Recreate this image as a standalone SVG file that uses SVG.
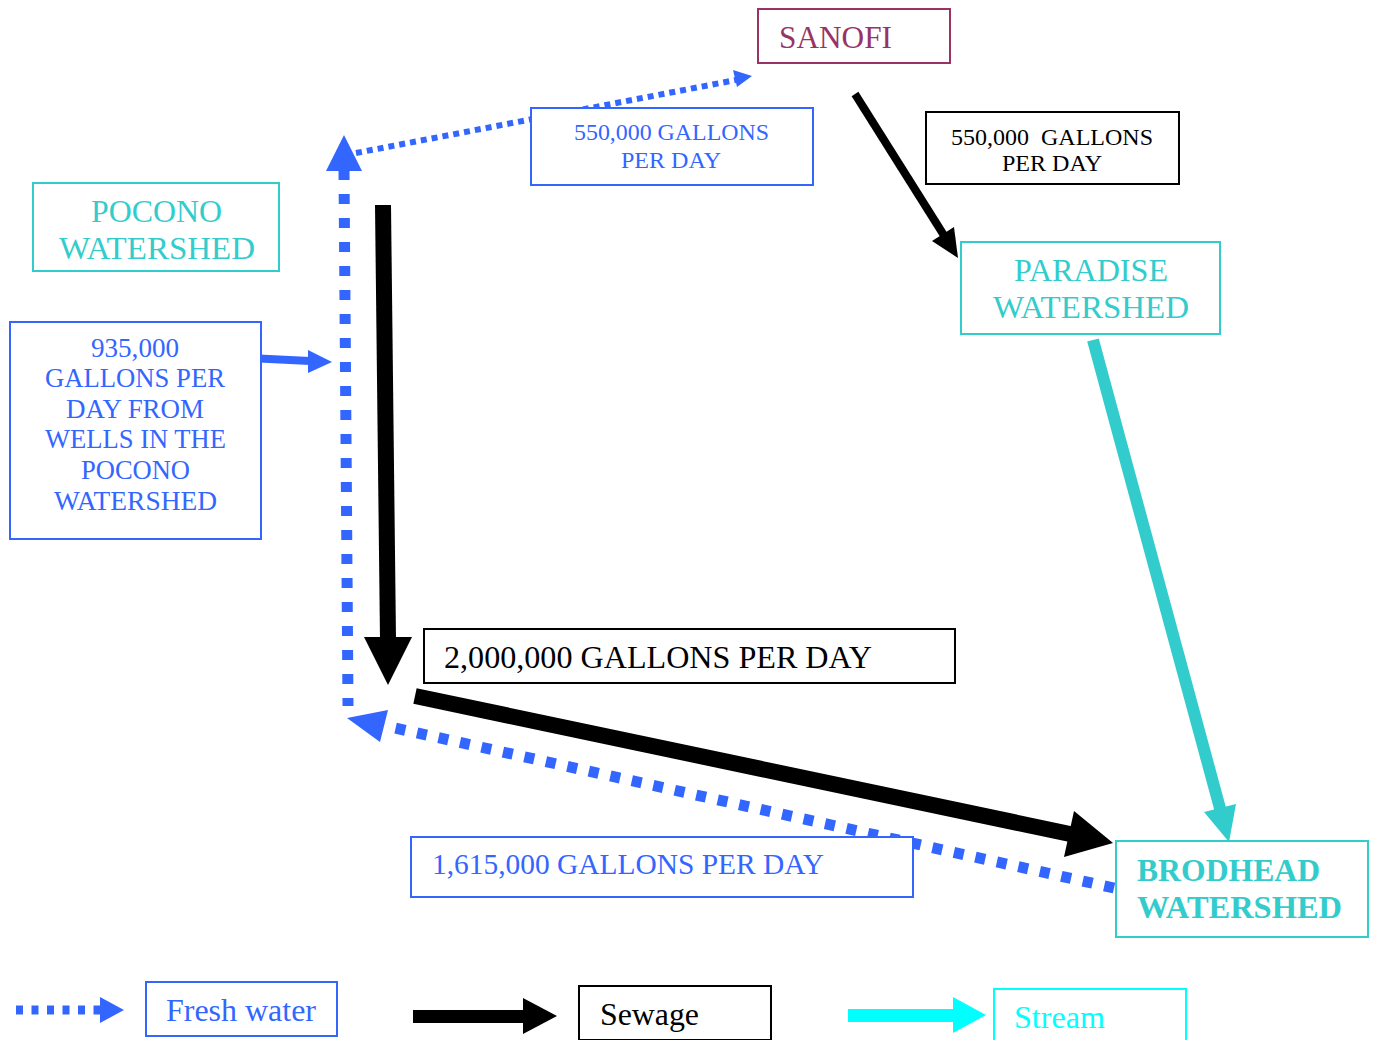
<svg xmlns="http://www.w3.org/2000/svg" width="1376" height="1040" viewBox="0 0 1376 1040">
<style>
text{font-family:"Liberation Serif","Times New Roman",serif;}
.box{fill:#fff;stroke-width:2;}
.blue{fill:#3366FF;}
.teal{fill:#33CCCC;}
.fresh{stroke:#3366FF;fill:none;stroke-linecap:butt;}
</style>
<rect width="1376" height="1040" fill="#fff"/>
<g id="connectors">
  <line class="fresh" x1="356" y1="153" x2="736" y2="80" stroke-width="6" stroke-dasharray="6,5"/>
  <polygon class="blue" points="752,76 733,70 737,87"/>
  <line class="fresh" x1="344" y1="170" x2="348" y2="706" stroke-width="11" stroke-dasharray="10,14"/>
  <polygon class="blue" points="344,135 326,171 362,171"/>
  <line class="fresh" x1="1114" y1="888" x2="386" y2="726" stroke-width="11" stroke-dasharray="10,12"/>
  <polygon class="blue" points="347,718 388,710 380,742"/>
  <line x1="247" y1="358" x2="310" y2="361" stroke="#3366FF" stroke-width="8"/>
  <polygon class="blue" points="332,362 308,350 308,373"/>
  <line x1="383" y1="205" x2="388" y2="640" stroke="#000" stroke-width="16"/>
  <polygon points="388,685 364,637 412,637" fill="#000"/>
  <line x1="415" y1="696" x2="1070" y2="834" stroke="#000" stroke-width="16"/>
  <polygon points="1113,843 1074,811 1064,857" fill="#000"/>
  <line x1="855" y1="94" x2="945" y2="237" stroke="#000" stroke-width="8"/>
  <polygon points="958,258 932,241 954,227" fill="#000"/>
  <line x1="1093" y1="340" x2="1221" y2="812" stroke="#33CCCC" stroke-width="12"/>
  <polygon class="teal" points="1229,842 1204,812 1236,804"/>
</g>
<g id="sanofi">
  <rect class="box" x="758" y="9" width="192" height="54" stroke="#993366"/>
  <text x="779" y="48" font-size="32" fill="#993366" textLength="113" lengthAdjust="spacingAndGlyphs">SANOFI</text>
</g>
<g id="label-550-blue">
  <rect class="box" x="531" y="108" width="282" height="77" stroke="#3366FF"/>
  <text x="574" y="140" font-size="24" fill="#3366FF" textLength="195" lengthAdjust="spacingAndGlyphs">550,000 GALLONS</text>
  <text x="621" y="168" font-size="24" fill="#3366FF" textLength="100" lengthAdjust="spacingAndGlyphs">PER DAY</text>
</g>
<g id="label-550-black">
  <rect class="box" x="926" y="112" width="253" height="72" stroke="#000"/>
  <text x="951" y="145" font-size="24" fill="#000" xml:space="preserve" textLength="202" lengthAdjust="spacingAndGlyphs">550,000  GALLONS</text>
  <text x="1002" y="171" font-size="24" fill="#000" textLength="100" lengthAdjust="spacingAndGlyphs">PER DAY</text>
</g>
<g id="paradise">
  <rect class="box" x="961" y="242" width="259" height="92" stroke="#33CCCC"/>
  <text x="1014" y="281" font-size="32" fill="#33CCCC" textLength="154" lengthAdjust="spacingAndGlyphs">PARADISE</text>
  <text x="993" y="318" font-size="32" fill="#33CCCC" textLength="196" lengthAdjust="spacingAndGlyphs">WATERSHED</text>
</g>
<g id="pocono">
  <rect class="box" x="33" y="183" width="246" height="88" stroke="#33CCCC"/>
  <text x="91" y="222" font-size="32" fill="#33CCCC" textLength="131" lengthAdjust="spacingAndGlyphs">POCONO</text>
  <text x="59" y="259" font-size="32" fill="#33CCCC" textLength="196" lengthAdjust="spacingAndGlyphs">WATERSHED</text>
</g>
<g id="wells">
  <rect class="box" x="10" y="322" width="251" height="217" stroke="#3366FF"/>
  <g font-size="27" fill="#3366FF">
    <text x="91" y="357" textLength="88" lengthAdjust="spacingAndGlyphs">935,000</text>
    <text x="45" y="387" textLength="180" lengthAdjust="spacingAndGlyphs">GALLONS PER</text>
    <text x="66" y="418" textLength="138" lengthAdjust="spacingAndGlyphs">DAY FROM</text>
    <text x="45" y="448" textLength="181" lengthAdjust="spacingAndGlyphs">WELLS IN THE</text>
    <text x="81" y="479" textLength="109" lengthAdjust="spacingAndGlyphs">POCONO</text>
    <text x="54" y="510" textLength="163" lengthAdjust="spacingAndGlyphs">WATERSHED</text>
  </g>
</g>
<g id="label-2000000">
  <rect class="box" x="424" y="629" width="531" height="54" stroke="#000"/>
  <text x="444" y="668" font-size="32" fill="#000" textLength="428" lengthAdjust="spacingAndGlyphs">2,000,000 GALLONS PER DAY</text>
</g>
<g id="label-1615000">
  <rect class="box" x="411" y="837" width="502" height="60" stroke="#3366FF"/>
  <text x="432" y="874" font-size="30" fill="#3366FF" textLength="392" lengthAdjust="spacingAndGlyphs">1,615,000 GALLONS PER DAY</text>
</g>
<g id="brodhead">
  <rect class="box" x="1116" y="841" width="252" height="96" stroke="#33CCCC"/>
  <text x="1137" y="881" font-size="32" font-weight="bold" fill="#33CCCC" textLength="183" lengthAdjust="spacingAndGlyphs">BRODHEAD</text>
  <text x="1137" y="918" font-size="32" font-weight="bold" fill="#33CCCC" textLength="205" lengthAdjust="spacingAndGlyphs">WATERSHED</text>
</g>
<g id="legend">
  <line class="fresh" x1="16" y1="1010" x2="101" y2="1010" stroke-width="9" stroke-dasharray="7,8.5"/>
  <polygon class="blue" points="124,1010 100,997 100,1023"/>
  <rect class="box" x="146" y="982" width="191" height="54" stroke="#3366FF"/>
  <text x="166" y="1021" font-size="31" fill="#3366FF" textLength="150" lengthAdjust="spacingAndGlyphs">Fresh water</text>
  <rect x="413" y="1010" width="112" height="13" fill="#000"/>
  <polygon points="557,1016 523,998 523,1034" fill="#000"/>
  <rect class="box" x="579" y="986" width="192" height="54" stroke="#000"/>
  <text x="600" y="1025" font-size="31" fill="#000" textLength="99" lengthAdjust="spacingAndGlyphs">Sewage</text>
  <rect x="848" y="1009" width="107" height="13" fill="#00FFFF"/>
  <polygon points="986,1015 953,997 953,1033" fill="#00FFFF"/>
  <rect class="box" x="994" y="989" width="192" height="54" stroke="#00FFFF"/>
  <text x="1014" y="1028" font-size="31" fill="#00FFFF" textLength="91" lengthAdjust="spacingAndGlyphs">Stream</text>
</g>
</svg>
